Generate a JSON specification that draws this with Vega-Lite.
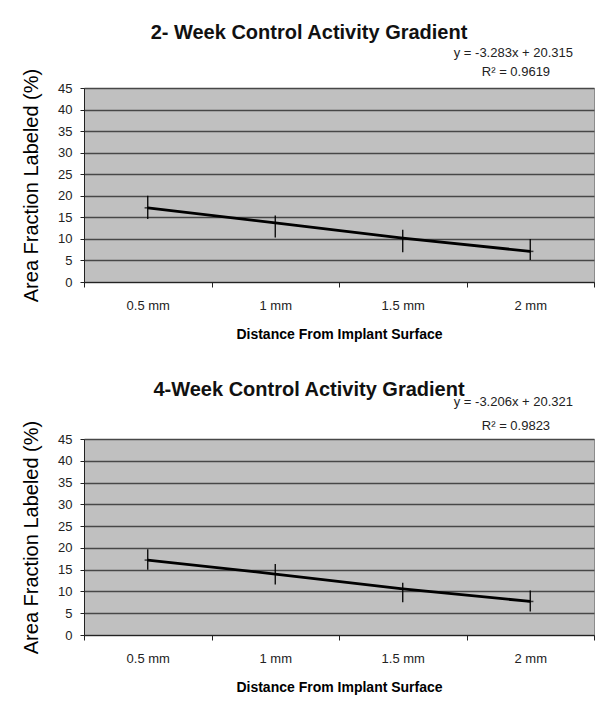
{
  "$schema": "https://vega.github.io/schema/vega-lite/v6.json",
  "background": "white",
  "padding": {"left": 21, "top": 22, "right": 0, "bottom": 0},
  "spacing": 37,
  "config": {
    "font": "Liberation Sans",
    "view": {"fill": "#c0c0c0", "stroke": "#8c8c8c", "strokeWidth": 1},
    "axis": {"labelFont": "Liberation Sans", "labelColor": "#222", "labelFontSize": 13, "domainColor": "#222", "tickColor": "#222", "titleColor": "#000", "titleFont": "Liberation Sans"},
    "title": {"font": "Liberation Sans", "fontSize": 20, "fontWeight": "bold", "color": "#111", "anchor": "middle", "dx": -30}
  },
  "datasets": {
    "w2": [
      {"d": 0.5, "v": 17.2, "lo": 14.6, "hi": 20.0},
      {"d": 1.0, "v": 13.7, "lo": 10.3, "hi": 15.4},
      {"d": 1.5, "v": 10.2, "lo": 6.9, "hi": 12.1},
      {"d": 2.0, "v": 7.1, "lo": 5.1, "hi": 10.0}
    ],
    "w4": [
      {"d": 0.5, "v": 17.2, "lo": 15.0, "hi": 19.7},
      {"d": 1.0, "v": 14.0, "lo": 11.6, "hi": 16.3},
      {"d": 1.5, "v": 10.6, "lo": 7.5, "hi": 12.0},
      {"d": 2.0, "v": 7.7, "lo": 5.4, "hi": 10.2}
    ],
    "a2": [
      {"label": "y = -3.283x + 20.315", "d": 1.70, "v": 53.2},
      {"label": "R² = 0.9619", "d": 1.81, "v": 48.8}
    ],
    "a4": [
      {"label": "y = -3.206x + 20.321", "d": 1.70, "v": 53.4},
      {"label": "R² = 0.9823", "d": 1.81, "v": 48.0}
    ]
  },
  "vconcat": [
    {
      "title": {"text": "2- Week Control Activity Gradient", "offset": 4},
      "width": 510,
      "height": 194,
      "resolve": {"axis": {"x": "independent"}},
      "layer": [
        {
          "data": {"name": "w2"},
          "mark": {"type": "rule", "color": "#000", "strokeWidth": 1.3},
          "encoding": {
            "x": {"field": "d", "type": "quantitative", "scale": {"domain": [0.25, 2.25], "nice": false, "zero": false},
              "axis": {"orient": "bottom", "values": [0.5, 1, 1.5, 2], "labelExpr": "datum.value + ' mm'", "ticks": false, "tickSize": 0, "labelPadding": 17, "grid": false, "domain": true, "title": "Distance From Implant Surface", "titleFontSize": 14, "titleFontWeight": "bold", "titlePadding": 15}},
            "y": {"field": "lo", "type": "quantitative", "scale": {"domain": [0, 45], "nice": false, "zero": true},
              "axis": {"values": [0, 5, 10, 15, 20, 25, 30, 35, 40, 45], "labelOverlap": false, "tickSize": 4, "labelPadding": 8, "grid": true, "gridColor": "#474747", "gridWidth": 1.5, "title": "Area Fraction Labeled (%)", "titleFontSize": 20, "titleFontWeight": "normal", "titlePadding": 16}},
            "y2": {"field": "hi"}
          }
        },
        {
          "data": {"name": "w2"},
          "mark": {"type": "line", "color": "#000", "strokeWidth": 2.8},
          "encoding": {
            "x": {"field": "d", "type": "quantitative", "axis": {"orient": "bottom", "values": [0.25, 0.75, 1.25, 1.75, 2.25], "labels": false, "domain": false, "ticks": true, "tickSize": 5, "grid": false, "title": null}},
            "y": {"field": "v", "type": "quantitative",
              "axis": {"values": [0, 5, 10, 15, 20, 25, 30, 35, 40, 45], "labelOverlap": false, "tickSize": 4, "labelPadding": 8, "grid": true, "gridColor": "#474747", "gridWidth": 1.5, "title": "Area Fraction Labeled (%)", "titleFontSize": 20, "titleFontWeight": "normal", "titlePadding": 16}}
          }
        },
        {
          "data": {"name": "w2"},
          "mark": {"type": "point", "shape": "stroke", "size": 40, "color": "#000", "strokeWidth": 1.5},
          "encoding": {
            "x": {"field": "d", "type": "quantitative", "axis": null},
            "y": {"field": "v", "type": "quantitative",
              "axis": {"values": [0, 5, 10, 15, 20, 25, 30, 35, 40, 45], "labelOverlap": false, "tickSize": 4, "labelPadding": 8, "grid": true, "gridColor": "#474747", "gridWidth": 1.5, "title": "Area Fraction Labeled (%)", "titleFontSize": 20, "titleFontWeight": "normal", "titlePadding": 16}}
          }
        },
        {
          "data": {"name": "a2"},
          "mark": {"type": "text", "align": "left", "baseline": "middle", "fontSize": 13, "color": "#222"},
          "encoding": {
            "x": {"field": "d", "type": "quantitative", "axis": null},
            "y": {"field": "v", "type": "quantitative",
              "axis": {"values": [0, 5, 10, 15, 20, 25, 30, 35, 40, 45], "labelOverlap": false, "tickSize": 4, "labelPadding": 8, "grid": true, "gridColor": "#474747", "gridWidth": 1.5, "title": "Area Fraction Labeled (%)", "titleFontSize": 20, "titleFontWeight": "normal", "titlePadding": 16}},
            "text": {"field": "label"}
          }
        }
      ]
    },
    {
      "title": {"text": "4-Week Control Activity Gradient", "offset": -4},
      "width": 510,
      "height": 196,
      "resolve": {"axis": {"x": "independent"}},
      "layer": [
        {
          "data": {"name": "w4"},
          "mark": {"type": "rule", "color": "#000", "strokeWidth": 1.3},
          "encoding": {
            "x": {"field": "d", "type": "quantitative", "scale": {"domain": [0.25, 2.25], "nice": false, "zero": false},
              "axis": {"orient": "bottom", "values": [0.5, 1, 1.5, 2], "labelExpr": "datum.value + ' mm'", "ticks": false, "tickSize": 0, "labelPadding": 17, "grid": false, "domain": true, "title": "Distance From Implant Surface", "titleFontSize": 14, "titleFontWeight": "bold", "titlePadding": 15}},
            "y": {"field": "lo", "type": "quantitative", "scale": {"domain": [0, 45], "nice": false, "zero": true},
              "axis": {"values": [0, 5, 10, 15, 20, 25, 30, 35, 40, 45], "labelOverlap": false, "tickSize": 4, "labelPadding": 8, "grid": true, "gridColor": "#474747", "gridWidth": 1.5, "title": "Area Fraction Labeled (%)", "titleFontSize": 20, "titleFontWeight": "normal", "titlePadding": 16}},
            "y2": {"field": "hi"}
          }
        },
        {
          "data": {"name": "w4"},
          "mark": {"type": "line", "color": "#000", "strokeWidth": 2.8},
          "encoding": {
            "x": {"field": "d", "type": "quantitative", "axis": {"orient": "bottom", "values": [0.25, 0.75, 1.25, 1.75, 2.25], "labels": false, "domain": false, "ticks": true, "tickSize": 5, "grid": false, "title": null}},
            "y": {"field": "v", "type": "quantitative",
              "axis": {"values": [0, 5, 10, 15, 20, 25, 30, 35, 40, 45], "labelOverlap": false, "tickSize": 4, "labelPadding": 8, "grid": true, "gridColor": "#474747", "gridWidth": 1.5, "title": "Area Fraction Labeled (%)", "titleFontSize": 20, "titleFontWeight": "normal", "titlePadding": 16}}
          }
        },
        {
          "data": {"name": "w4"},
          "mark": {"type": "point", "shape": "stroke", "size": 40, "color": "#000", "strokeWidth": 1.5},
          "encoding": {
            "x": {"field": "d", "type": "quantitative", "axis": null},
            "y": {"field": "v", "type": "quantitative",
              "axis": {"values": [0, 5, 10, 15, 20, 25, 30, 35, 40, 45], "labelOverlap": false, "tickSize": 4, "labelPadding": 8, "grid": true, "gridColor": "#474747", "gridWidth": 1.5, "title": "Area Fraction Labeled (%)", "titleFontSize": 20, "titleFontWeight": "normal", "titlePadding": 16}}
          }
        },
        {
          "data": {"name": "a4"},
          "mark": {"type": "text", "align": "left", "baseline": "middle", "fontSize": 13, "color": "#222"},
          "encoding": {
            "x": {"field": "d", "type": "quantitative", "axis": null},
            "y": {"field": "v", "type": "quantitative",
              "axis": {"values": [0, 5, 10, 15, 20, 25, 30, 35, 40, 45], "labelOverlap": false, "tickSize": 4, "labelPadding": 8, "grid": true, "gridColor": "#474747", "gridWidth": 1.5, "title": "Area Fraction Labeled (%)", "titleFontSize": 20, "titleFontWeight": "normal", "titlePadding": 16}},
            "text": {"field": "label"}
          }
        }
      ]
    }
  ]
}
